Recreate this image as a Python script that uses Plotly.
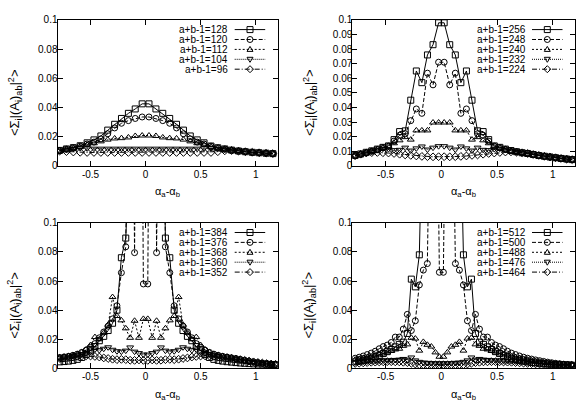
import plotly.graph_objects as go

W, H = 579, 411
FAM = "Liberation Sans, Arial, Helvetica, sans-serif"
FS = 10

# ---------------- Panel 1 (a+b-1 = 128 ... 96) ----------------
p1_x = [-0.781, -0.719, -0.656, -0.594, -0.531, -0.469, -0.406, -0.344, -0.281, -0.219, -0.156,
        -0.094, -0.031, 0.031, 0.094, 0.156, 0.219, 0.281, 0.344, 0.406, 0.469, 0.531, 0.594,
        0.656, 0.719, 0.781, 0.844, 0.906, 0.969, 1.031, 1.094, 1.156]
p1_128 = [0.0106, 0.0116, 0.0125, 0.0138, 0.0158, 0.0178, 0.0205, 0.0245, 0.0285, 0.0325, 0.036, 0.039, 0.0425,
          0.0425, 0.039, 0.036, 0.0325, 0.0285, 0.0245, 0.0205, 0.0178, 0.0158, 0.0136, 0.0124, 0.0116, 0.0108,
          0.0102, 0.0097, 0.0093, 0.009, 0.0087, 0.0084]
p1_120 = [0.0105, 0.0115, 0.0124, 0.0135, 0.015, 0.0163, 0.0185, 0.022, 0.026, 0.0292, 0.031, 0.0325, 0.0335,
          0.0335, 0.0325, 0.031, 0.0292, 0.026, 0.022, 0.0185, 0.0163, 0.015, 0.0135, 0.0124, 0.0116, 0.0108,
          0.0102, 0.0097, 0.0093, 0.009, 0.0087, 0.0084]
p1_112 = [0.0104, 0.0114, 0.0122, 0.0132, 0.0145, 0.0155, 0.0168, 0.018, 0.0188, 0.019, 0.0195, 0.0205, 0.0208,
          0.0208, 0.0205, 0.0195, 0.019, 0.0188, 0.018, 0.0168, 0.0155, 0.0145, 0.0132, 0.0122, 0.0115, 0.0107,
          0.0102, 0.0097, 0.0093, 0.009, 0.0087, 0.0084]
p1_104 = [0.0103, 0.0112, 0.0118, 0.0122, 0.012, 0.0118, 0.0118, 0.0118, 0.0118, 0.0118, 0.0118, 0.0118, 0.0118,
          0.0118, 0.0118, 0.0118, 0.0118, 0.0118, 0.0118, 0.0118, 0.0118, 0.012, 0.0122, 0.0118, 0.0113, 0.0107,
          0.0101, 0.0097, 0.0093, 0.009, 0.0087, 0.0084]
p1_96 = [0.0101, 0.0098, 0.0095, 0.0093, 0.0092, 0.0092, 0.0092, 0.0092, 0.0092, 0.0092, 0.0092, 0.0092, 0.0092,
         0.0092, 0.0092, 0.0092, 0.0092, 0.0092, 0.0092, 0.0092, 0.0092, 0.0092, 0.0092, 0.0097, 0.0103, 0.0105,
         0.0101, 0.0097, 0.0093, 0.009, 0.0087, 0.0084]
p1_labels = ["a+b-1=128", "a+b-1=120", "a+b-1=112", "a+b-1=104", "a+b-1=96"]

# ---------------- Panel 2 (a+b-1 = 256 ... 224) ----------------
p2_x = [-0.775, -0.725, -0.675, -0.625, -0.575, -0.525, -0.475, -0.425, -0.375, -0.325, -0.275, -0.225,
        -0.175, -0.125, -0.075, -0.025, 0.025, 0.075, 0.125, 0.175, 0.225, 0.275, 0.325, 0.375, 0.425,
        0.475, 0.525, 0.575, 0.625, 0.675, 0.725, 0.775, 0.825, 0.875, 0.925, 0.975, 1.025, 1.075, 1.125, 1.175]
p2_256 = [0.0072, 0.0082, 0.0093, 0.0103, 0.0115, 0.0127, 0.0137, 0.018, 0.0235, 0.024, 0.045, 0.065, 0.057,
          0.076, 0.083, 0.098, 0.098, 0.083, 0.076, 0.057, 0.065, 0.045, 0.024, 0.0235, 0.018, 0.0137, 0.0127,
          0.0115, 0.0105, 0.0097, 0.009, 0.0085, 0.0078, 0.0071, 0.0066, 0.0061, 0.0056, 0.0051, 0.0047, 0.0043]
p2_248 = [0.0068, 0.0079, 0.009, 0.0101, 0.0113, 0.0125, 0.0135, 0.017, 0.021, 0.022, 0.031, 0.039, 0.036,
          0.0635, 0.0555, 0.071, 0.071, 0.0555, 0.0635, 0.036, 0.039, 0.031, 0.022, 0.021, 0.017, 0.0135, 0.0125,
          0.0114, 0.0104, 0.0096, 0.0089, 0.0083, 0.0077, 0.0071, 0.0066, 0.006, 0.0055, 0.005, 0.0046, 0.0043]
p2_240 = [0.007, 0.008, 0.0091, 0.0102, 0.0113, 0.0124, 0.0132, 0.0155, 0.0175, 0.0197, 0.018, 0.0243, 0.0243,
          0.0243, 0.0297, 0.0297, 0.0297, 0.0297, 0.0243, 0.0243, 0.0243, 0.018, 0.0197, 0.0175, 0.0155, 0.0132,
          0.0124, 0.0113, 0.0103, 0.0095, 0.0088, 0.0082, 0.0076, 0.007, 0.0065, 0.006, 0.0055, 0.005, 0.0046, 0.0042]
p2_232 = [0.0069, 0.0079, 0.009, 0.01, 0.011, 0.0118, 0.0115, 0.0108, 0.011, 0.0125, 0.0105, 0.012, 0.0133,
          0.0112, 0.0125, 0.0135, 0.0135, 0.0125, 0.0112, 0.0133, 0.012, 0.0105, 0.0125, 0.011, 0.0108, 0.0115,
          0.0118, 0.0112, 0.0103, 0.0095, 0.0088, 0.0082, 0.0076, 0.007, 0.0065, 0.006, 0.0055, 0.005, 0.0046, 0.0042]
p2_224 = [0.0071, 0.008, 0.0088, 0.0091, 0.0092, 0.009, 0.0088, 0.0085, 0.008, 0.0075, 0.0072, 0.0068, 0.0065,
          0.0063, 0.0062, 0.0063, 0.0063, 0.0062, 0.0063, 0.0065, 0.0068, 0.0072, 0.0075, 0.008, 0.0085, 0.0088,
          0.0092, 0.0095, 0.0096, 0.0094, 0.009, 0.0085, 0.0078, 0.0072, 0.0066, 0.0061, 0.0056, 0.0051, 0.0047, 0.0043]
p2_labels = ["a+b-1=256", "a+b-1=248", "a+b-1=240", "a+b-1=232", "a+b-1=224"]

# ---------------- Panel 3 (a+b-1 = 384 ... 352) ----------------
p3_x = [-0.78, -0.74, -0.70, -0.66, -0.62, -0.58, -0.54, -0.50, -0.46, -0.42, -0.38, -0.34, -0.30, -0.26,
        -0.22, -0.18, -0.14, -0.10, -0.06, -0.02, 0.02, 0.06, 0.10, 0.14, 0.18, 0.22, 0.26, 0.30, 0.34, 0.38,
        0.42, 0.46, 0.50, 0.54, 0.58, 0.62, 0.66, 0.70, 0.74, 0.78, 0.82, 0.86, 0.90, 0.94, 0.98, 1.02, 1.06,
        1.10, 1.14, 1.18]
p3_384 = [0.0045, 0.0047, 0.005, 0.0055, 0.0062, 0.0075, 0.0095, 0.012, 0.015, 0.019, 0.022, 0.026, 0.031, 0.04,
          0.076, 0.0895, 0.3, 0.45, 0.5, 0.35,
          0.35, 0.5, 0.45, 0.3, 0.0895, 0.076, 0.04, 0.031, 0.026, 0.022, 0.019, 0.015, 0.012, 0.0095, 0.0075,
          0.0062, 0.0055, 0.005, 0.0046, 0.0043, 0.004, 0.0037, 0.0035, 0.0033, 0.0031, 0.003, 0.0029, 0.0028,
          0.0027, 0.0026]
p3_376 = [0.0075, 0.0079, 0.0083, 0.009, 0.0098, 0.011, 0.0125, 0.0145, 0.017, 0.021, 0.025, 0.029, 0.034, 0.043,
          0.0657, 0.0835, 0.4, 0.0795, 0.5, 0.058,
          0.058, 0.5, 0.0795, 0.4, 0.0835, 0.0657, 0.043, 0.034, 0.029, 0.025, 0.021, 0.017, 0.0145, 0.0125,
          0.011, 0.0098, 0.009, 0.0083, 0.0078, 0.0073, 0.0068, 0.0062, 0.0056, 0.005, 0.0045, 0.004, 0.0036,
          0.0033, 0.003, 0.0028]
p3_368 = [0.0072, 0.0077, 0.0083, 0.009, 0.0098, 0.011, 0.013, 0.016, 0.0215, 0.02, 0.0245, 0.03, 0.049, 0.036,
          0.033, 0.0275, 0.021, 0.0327, 0.021, 0.034,
          0.034, 0.021, 0.0327, 0.021, 0.0275, 0.033, 0.036, 0.049, 0.03, 0.0245, 0.02, 0.0215, 0.016, 0.013,
          0.011, 0.0098, 0.009, 0.0083, 0.0077, 0.0072, 0.0066, 0.006, 0.0054, 0.0049, 0.0044, 0.004, 0.0036,
          0.0033, 0.003, 0.0028]
p3_360 = [0.007, 0.0075, 0.008, 0.0085, 0.009, 0.0098, 0.0105, 0.0115, 0.013, 0.0125, 0.0135, 0.0145, 0.0128,
          0.0118, 0.0115, 0.0122, 0.0144, 0.0115, 0.0105, 0.0095,
          0.0095, 0.0105, 0.0115, 0.0144, 0.0122, 0.0115, 0.0118, 0.0128, 0.0145, 0.0135, 0.0125, 0.013, 0.0115,
          0.0105, 0.0098, 0.009, 0.0085, 0.008, 0.0075, 0.007, 0.0065, 0.006, 0.0054, 0.0049, 0.0044, 0.004,
          0.0036, 0.0033, 0.003, 0.0028]
p3_352 = [0.0069, 0.0073, 0.0077, 0.008, 0.0083, 0.0085, 0.0086, 0.0085, 0.0082, 0.0078, 0.0072, 0.0068, 0.0063,
          0.006, 0.0062, 0.006, 0.0056, 0.0055, 0.0058, 0.0055,
          0.0055, 0.0058, 0.0055, 0.0056, 0.006, 0.0062, 0.006, 0.0063, 0.0068, 0.0072, 0.0078, 0.0082, 0.0085,
          0.0086, 0.0085, 0.0083, 0.008, 0.0077, 0.0073, 0.0069, 0.0065, 0.006, 0.0055, 0.005, 0.0045, 0.0041,
          0.0037, 0.0033, 0.003, 0.0028]
p3_labels = ["a+b-1=384", "a+b-1=376", "a+b-1=368", "a+b-1=360", "a+b-1=352"]

# ---------------- Panel 4 (a+b-1 = 512 ... 464) ----------------
p4_x = [-0.774, -0.738, -0.702, -0.666, -0.63, -0.594, -0.558, -0.522, -0.486, -0.45, -0.414, -0.378, -0.342,
        -0.306, -0.27, -0.234, -0.198, -0.162, -0.126, -0.09, -0.054, -0.018,
        0.018, 0.054, 0.09, 0.126, 0.162, 0.198, 0.234, 0.27, 0.306, 0.342, 0.378, 0.414, 0.45, 0.486, 0.522,
        0.558, 0.594, 0.63, 0.666, 0.702, 0.738, 0.774, 0.81, 0.846, 0.882, 0.918, 0.954, 0.99, 1.026, 1.062,
        1.098, 1.134, 1.17]
p4_512 = [0.0045, 0.005, 0.0055, 0.0062, 0.007, 0.008, 0.009, 0.0102, 0.0115, 0.013, 0.0148, 0.0165, 0.018,
          0.024, 0.0613, 0.056, 0.078, 0.2, 0.3, 0.4, 0.45, 0.5,
          0.5, 0.45, 0.4, 0.3, 0.2, 0.078, 0.056, 0.0613, 0.024, 0.018, 0.0165, 0.0148, 0.013, 0.0115, 0.0102,
          0.009, 0.008, 0.007, 0.0062, 0.0055, 0.005, 0.0045, 0.0041, 0.0038, 0.0035, 0.0032, 0.003, 0.0028,
          0.0026, 0.0025, 0.0024, 0.0023, 0.0022]
p4_500 = [0.007, 0.0077, 0.0085, 0.0095, 0.0105, 0.0118, 0.0135, 0.015, 0.016, 0.0178, 0.0215, 0.0215, 0.027,
          0.0371, 0.026, 0.0327, 0.0573, 0.0675, 0.072, 0.25, 0.3, 0.066,
          0.066, 0.3, 0.25, 0.072, 0.0675, 0.0573, 0.0327, 0.026, 0.0371, 0.027, 0.0215, 0.0215, 0.0178, 0.016,
          0.015, 0.0135, 0.0118, 0.0105, 0.0095, 0.0085, 0.0077, 0.007, 0.0064, 0.0058, 0.0053, 0.0048, 0.0043,
          0.0039, 0.0035, 0.0032, 0.0029, 0.0027, 0.0025]
p4_488 = [0.006, 0.0065, 0.007, 0.0076, 0.0082, 0.0088, 0.0095, 0.0102, 0.011, 0.012, 0.013, 0.0135, 0.0155,
          0.0165, 0.021, 0.0205, 0.0122, 0.0182, 0.0162, 0.015, 0.011, 0.008,
          0.008, 0.011, 0.015, 0.0162, 0.0182, 0.0122, 0.0205, 0.021, 0.0165, 0.0155, 0.0135, 0.013, 0.012,
          0.011, 0.0102, 0.0095, 0.0088, 0.0082, 0.0076, 0.007, 0.0065, 0.006, 0.0055, 0.005, 0.0046, 0.0042,
          0.0038, 0.0035, 0.0032, 0.003, 0.0028, 0.0026, 0.0024]
p4_476 = [0.0042, 0.0044, 0.0046, 0.0048, 0.005, 0.0052, 0.0053, 0.0054, 0.0055, 0.0056, 0.0058, 0.006, 0.0065,
          0.006, 0.0075, 0.0055, 0.0045, 0.004, 0.0038, 0.0036, 0.0035, 0.0035,
          0.0035, 0.0035, 0.0036, 0.0038, 0.004, 0.0045, 0.0055, 0.0075, 0.006, 0.0065, 0.006, 0.0058, 0.0056,
          0.0055, 0.0054, 0.0053, 0.0052, 0.005, 0.0048, 0.0046, 0.0044, 0.0042, 0.004, 0.0038, 0.0036, 0.0034,
          0.0032, 0.003, 0.0029, 0.0027, 0.0026, 0.0025, 0.0024]
p4_464 = [0.0034, 0.0036, 0.0038, 0.004, 0.0042, 0.0043, 0.0044, 0.0045, 0.0046, 0.0046, 0.0045, 0.0045, 0.0042,
          0.004, 0.0035, 0.003, 0.0025, 0.0025, 0.0025, 0.0025, 0.0025, 0.0025,
          0.0025, 0.0025, 0.0025, 0.0025, 0.0025, 0.0025, 0.003, 0.0035, 0.004, 0.0042, 0.0045, 0.0045, 0.0046,
          0.0046, 0.0045, 0.0044, 0.0043, 0.0042, 0.004, 0.0038, 0.0036, 0.0034, 0.0033, 0.0031, 0.003, 0.0029,
          0.0028, 0.0027, 0.0026, 0.0025, 0.0024, 0.0023, 0.0022]
p4_labels = ["a+b-1=512", "a+b-1=500", "a+b-1=488", "a+b-1=476", "a+b-1=464"]

# ---------------- axis ticks ----------------
x_ticks = [-0.5, 0, 0.5, 1]
x_ticktext = ["-0.5", "0", "0.5", "1"]
y_ticks_a = [0, 0.02, 0.04, 0.06, 0.08, 0.1]
y_ticktext_a = ["0", "0.02", "0.04", "0.06", "0.08", "0.1"]
y_ticks_b = [0, 0.01, 0.02, 0.03, 0.04, 0.05, 0.06, 0.07, 0.08, 0.09, 0.1]
y_ticktext_b = ["0", "0.01", "0.02", "0.03", "0.04", "0.05", "0.06", "0.07", "0.08", "0.09", "0.1"]

x_title = "α<sub>a</sub>-α<sub>b</sub>"
y_title = "&lt;Σ<sub>i</sub>|(A<sub>i</sub>)<sub>ab</sub>|<sup>2</sup>&gt;"

panels = [
    (p1_x, [p1_128, p1_120, p1_112, p1_104, p1_96], p1_labels, y_ticks_a, y_ticktext_a),
    (p2_x, [p2_256, p2_248, p2_240, p2_232, p2_224], p2_labels, y_ticks_b, y_ticktext_b),
    (p3_x, [p3_384, p3_376, p3_368, p3_360, p3_352], p3_labels, y_ticks_a, y_ticktext_a),
    (p4_x, [p4_512, p4_500, p4_488, p4_476, p4_464], p4_labels, y_ticks_a, y_ticktext_a),
]
for px_, ser, _, _, _ in panels:
    for s in ser:
        assert len(s) == len(px_), (len(s), len(px_))

# styles (gnuplot-like point / line types)
STYLES = [
    dict(symbol="square-open", size=6, dash="solid"),
    dict(symbol="circle-open", size=6, dash="4px,2px"),
    dict(symbol="triangle-up-open", size=6, dash="2px,2px"),
    dict(symbol="triangle-down-open", size=6, dash="1px,1px"),
    dict(symbol="diamond-open", size=6, dash="5px,2px,1px,2px"),
]

# plot boxes in pixels: left, right, top, bottom
BOXES = [(57.5, 277.7, 14.3, 164.7), (352.3, 575.0, 14.3, 164.7),
         (57.5, 277.7, 223.3, 373.3), (352.3, 575.0, 223.3, 373.3)]

fig = go.Figure()
layout = dict(width=W, height=H, margin=dict(l=0, r=0, t=0, b=0),
              paper_bgcolor="white", plot_bgcolor="white", showlegend=False,
              font=dict(family=FAM, size=FS, color="black"))
annotations = []
shapes = []

for i, (xs, series, labels, ytv, ytt) in enumerate(panels):
    n = i + 1
    xa = "x" if n == 1 else f"x{n}"
    ya = "y" if n == 1 else f"y{n}"
    L, R, T, B = BOXES[i]
    axcommon = dict(showline=True, linecolor="black", linewidth=1, mirror="ticks", ticks="inside",
                    ticklen=5, tickcolor="black", tickwidth=1, showgrid=False, zeroline=False,
                    tickfont=dict(family=FAM, size=FS, color="black"))
    layout["xaxis" if n == 1 else f"xaxis{n}"] = dict(
        axcommon, domain=[L / W, R / W], range=[-0.8, 1.2], tickvals=x_ticks, ticktext=x_ticktext,
        anchor=ya, ticklabelstandoff=-1)
    layout["yaxis" if n == 1 else f"yaxis{n}"] = dict(
        axcommon, domain=[1 - B / H, 1 - T / H], range=[0, 0.1], tickvals=ytv, ticktext=ytt,
        anchor=xa, ticklabelstandoff=-3)

    for k, (ys, lab) in enumerate(zip(series, labels)):
        st = STYLES[k]
        fig.add_trace(go.Scatter(
            x=xs, y=ys, xaxis=xa, yaxis=ya, mode="lines+markers", name=lab,
            line=dict(color="black", width=1, dash=st["dash"]),
            marker=dict(symbol=st["symbol"], size=st["size"], color="black",
                        line=dict(color="black", width=1)),
            cliponaxis=True))

        # gnuplot-style key: text, then line sample with a marker
        cy = T + 10.0 + 10.2 * k
        yp = 1 - cy / H
        annotations.append(dict(text=lab, x=(R - 48.5) / W, y=yp, xref="paper", yref="paper",
                                xanchor="right", yanchor="middle", showarrow=False, borderpad=0,
                                font=dict(family=FAM, size=FS, color="black")))
        shapes.append(dict(type="line", xref="paper", yref="paper", x0=(R - 43) / W, x1=(R - 12.5) / W,
                           y0=yp, y1=yp, line=dict(color="black", width=1, dash=st["dash"])))
        cx = (R - 27.7) / W
        mk = dict(xref="paper", yref="paper", xsizemode="pixel", ysizemode="pixel",
                  xanchor=cx, yanchor=yp, line=dict(color="black", width=1),
                  fillcolor="rgba(0,0,0,0)")
        if k == 0:
            shapes.append(dict(mk, type="rect", x0=-3, x1=3, y0=-3, y1=3))
        elif k == 1:
            shapes.append(dict(mk, type="circle", x0=-3, x1=3, y0=-3, y1=3))
        elif k == 2:
            shapes.append(dict(mk, type="path", path="M-3,-2 L3,-2 L0,3 Z"))
        elif k == 3:
            shapes.append(dict(mk, type="path", path="M-3,2 L3,2 L0,-3 Z"))
        else:
            shapes.append(dict(mk, type="path", path="M0,3.5 L3.5,0 L0,-3.5 L-3.5,0 Z"))

    # axis titles
    annotations.append(dict(text=x_title, x=(L + R) / 2 / W, y=1 - (B + 27) / H, xref="paper", yref="paper",
                            xanchor="center", yanchor="middle", showarrow=False,
                            font=dict(family=FAM, size=11, color="black")))
    annotations.append(dict(text=y_title, x=(L - 43) / W, y=1 - ((T + B) / 2 + 10) / H, xref="paper",
                            yref="paper", xanchor="center", yanchor="middle", showarrow=False, textangle=-90,
                            font=dict(family=FAM, size=13, color="black")))

layout["annotations"] = annotations
layout["shapes"] = shapes
fig.update_layout(**layout)
fig.write_html("out.html")
